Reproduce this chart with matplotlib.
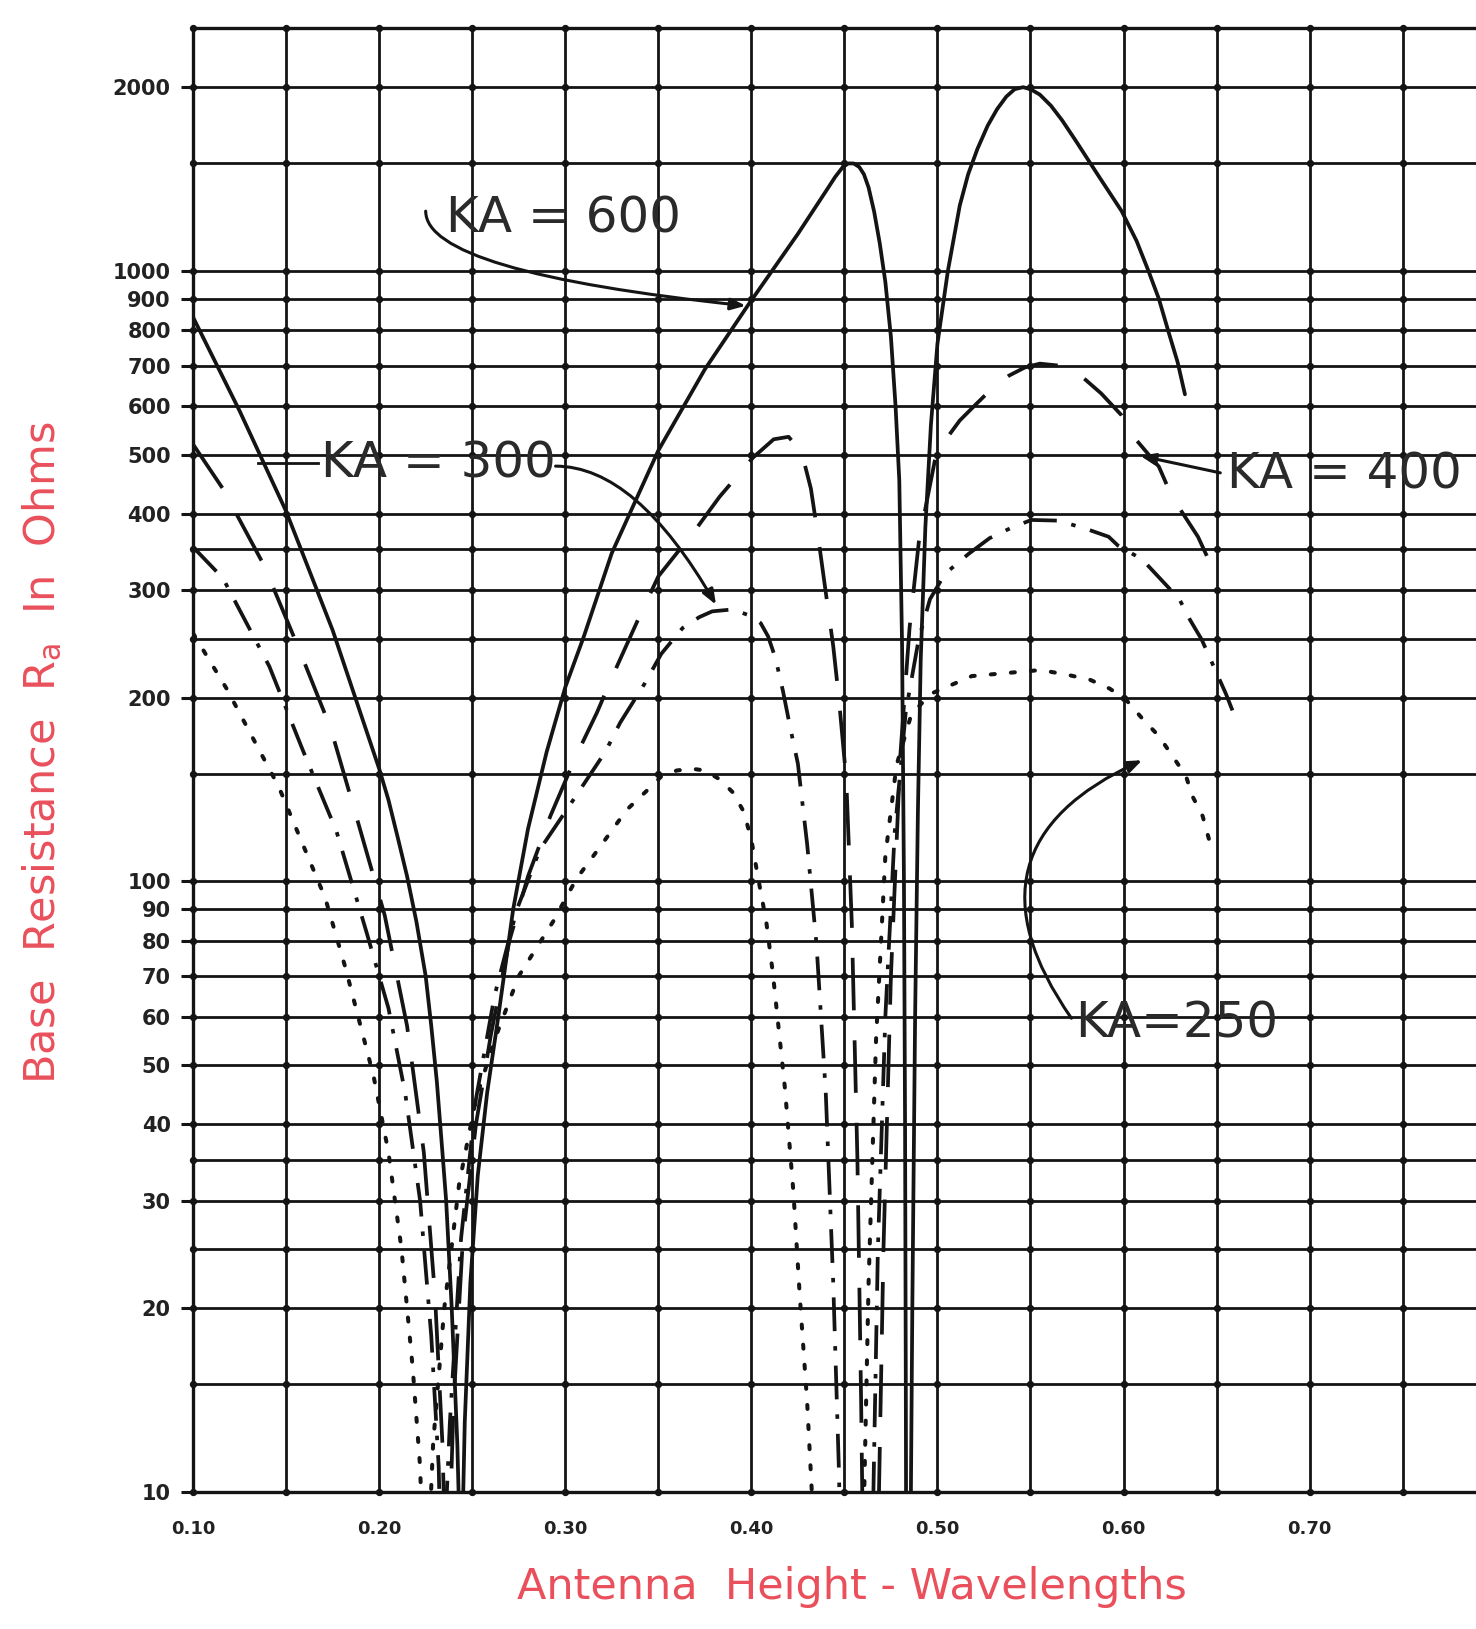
import numpy as np
import matplotlib.pyplot as plt
from matplotlib.ticker import FixedLocator, FixedFormatter, NullLocator

plt.rcParams['font.family'] = ['DejaVu Sans']
plt.rcParams['mathtext.default'] = 'regular'

# base resistance (ohms) vs antenna height (wavelengths)
ka600_x = [0.100, 0.125, 0.150, 0.175, 0.200, 0.205, 0.210, 0.215, 0.220, 0.225, 0.228, 0.231,
           0.234, 0.236, 0.239, 0.242, 0.2435,
           0.2445, 0.246, 0.249, 0.253, 0.258, 0.264, 0.272, 0.280, 0.290, 0.300, 0.310, 0.325,
           0.350, 0.375, 0.398, 0.425, 0.440, 0.445, 0.449, 0.452, 0.455, 0.458, 0.4605, 0.463,
           0.466, 0.469, 0.472, 0.475, 0.4775, 0.4795, 0.481, 0.482, 0.4826, 0.483, 0.4832,
           0.4855, 0.4865, 0.488, 0.4895, 0.491, 0.4935, 0.4965, 0.500, 0.5056, 0.512, 0.5165,
           0.5215, 0.527, 0.532, 0.537, 0.5415, 0.546, 0.550, 0.555, 0.561, 0.567, 0.574, 0.586,
           0.599, 0.607, 0.6134, 0.619, 0.624, 0.629, 0.633]
ka600_r = [840, 590, 404, 258, 153, 136, 118, 102, 86, 70, 58, 47,
           36, 30, 20, 12, 8,
           8, 13, 22, 33, 45, 60, 90, 122, 163, 208, 252, 345,
           508, 690, 877, 1150, 1350, 1425, 1478, 1500, 1500, 1480, 1440, 1370,
           1250, 1110, 960, 780, 600, 454, 243, 100, 40, 15, 8,
           8, 20, 60, 130, 230, 380, 560, 760, 1000, 1280, 1440,
           1585, 1730, 1840, 1930, 1985, 2000, 1985, 1945, 1865, 1765, 1640, 1440,
           1253, 1120, 1000, 900, 798, 710, 628]

ka400_x = [0.100, 0.116, 0.138, 0.157, 0.174, 0.188, 0.203, 0.215, 0.224, 0.230, 0.234, 0.2355,
           0.2375, 0.240, 0.245, 0.252, 0.260, 0.270, 0.280, 0.292, 0.306, 0.317, 0.326, 0.339,
           0.350, 0.370, 0.383, 0.401, 0.412, 0.420, 0.427, 0.432, 0.436, 0.4405, 0.444, 0.447,
           0.451, 0.454, 0.457, 0.459, 0.460,
           0.468, 0.471, 0.475, 0.480, 0.485, 0.490, 0.4995, 0.512, 0.5205, 0.530, 0.5385, 0.547,
           0.555, 0.565, 0.577, 0.588, 0.599, 0.607, 0.619, 0.626, 0.640, 0.646]
ka400_r = [520, 440, 330, 240, 178, 127, 88, 58, 36, 21, 12, 8,
           8, 14, 26, 40, 56, 80, 102, 128, 161, 189, 219, 268,
           316, 377, 427, 495, 530, 535, 505, 440, 365, 290, 243, 200,
           147, 85, 35, 14, 8,
           8, 25, 70, 160, 260, 360, 505, 569, 604, 645, 674, 695,
           705, 700, 674, 630, 580, 528, 478, 427, 367, 335]

ka300_x = [0.100, 0.116, 0.141, 0.159, 0.177, 0.193, 0.205, 0.214, 0.222, 0.228, 0.232, 0.233,
           0.235, 0.238, 0.244, 0.252, 0.262, 0.274, 0.2865, 0.300, 0.3215, 0.3295, 0.3427,
           0.3516, 0.363, 0.372, 0.379, 0.390, 0.400, 0.405, 0.409, 0.413, 0.417, 0.421, 0.425,
           0.430, 0.435, 0.440, 0.444, 0.447, 0.448,
           0.465, 0.468, 0.472, 0.477, 0.483, 0.490, 0.496, 0.504, 0.5167, 0.528, 0.540, 0.5505,
           0.565, 0.580, 0.592, 0.597, 0.610, 0.630, 0.6355, 0.642, 0.655, 0.659]
ka300_r = [353, 314, 225, 164, 121, 83, 62, 45, 30, 18, 11, 8,
           8, 13, 26, 44, 65, 90, 113, 130, 163, 182, 211,
           236, 260, 271, 277, 279, 272, 265, 252, 232, 205, 178, 156,
           115, 79, 45, 22, 11, 8,
           8, 25, 60, 120, 190, 250, 290, 319, 344, 365, 380, 391,
           390, 378, 367, 355, 337, 290, 269, 249, 203, 189]

ka250_x = [0.100, 0.118, 0.146, 0.171, 0.182, 0.190, 0.197, 0.205, 0.212, 0.218, 0.222, 0.2235,
           0.2265, 0.229, 0.235, 0.243, 0.252, 0.262, 0.275, 0.2935, 0.306, 0.315, 0.324, 0.333,
           0.344, 0.352, 0.360, 0.368, 0.375, 0.383, 0.390, 0.396, 0.400, 0.404, 0.408, 0.4115,
           0.418, 0.4226, 0.426, 0.430, 0.4325, 0.4335,
           0.460, 0.463, 0.467, 0.472, 0.478, 0.486, 0.4965, 0.5185, 0.5555, 0.570, 0.582,
           0.5925, 0.601, 0.610, 0.619, 0.6335, 0.637, 0.6425, 0.646]
ka250_r = [255, 207, 143, 94, 72, 58, 48, 36, 25, 16, 11, 8,
           8, 12, 20, 32, 44, 55, 70, 86, 101, 110, 120, 131,
           141, 149, 152, 153, 152, 147, 140, 130, 117, 100, 86, 71,
           46, 31, 21, 14, 10, 8,
           8, 22, 55, 110, 155, 188, 203, 217, 222, 218, 214,
           207, 199, 185, 173, 149, 138, 128, 117]

grid_x = [0.10, 0.15, 0.20, 0.25, 0.30, 0.35, 0.40, 0.45, 0.50, 0.55, 0.60, 0.65, 0.70, 0.75]
grid_r = [10, 15, 20, 25, 30, 35, 40, 50, 60, 70, 80, 90, 100, 150, 200, 250, 300, 350,
          400, 500, 600, 700, 800, 900, 1000, 1500, 2000, 2500]
ytick_vals = [10, 20, 30, 40, 50, 60, 70, 80, 90, 100, 200, 300, 400, 500, 600, 700, 800,
              900, 1000, 2000]
xtick_vals = [0.10, 0.20, 0.30, 0.40, 0.50, 0.60, 0.70]
xtick_labels = ['0.10', '0.20', '0.30', '0.40', '0.50', '0.60', '0.70']

ink = '#141414'
red = '#e9505c'

fig = plt.figure(figsize=(14.76, 16.29), dpi=100)
ax = fig.add_axes([0.1308, 0.0841, 0.8692, 0.8987])
ax.set_yscale('log')
ax.set_xlim(0.10, 0.7894)
ax.set_ylim(10, 2500)

# graph-paper grid with dots at the crossings
for gx in grid_x[1:]:
    ax.axvline(gx, color=ink, lw=2.0, zorder=1)
for gr in grid_r[1:-1]:
    ax.axhline(gr, color=ink, lw=2.0, zorder=1)
gx_all, gr_all = np.meshgrid(grid_x, grid_r)
ax.scatter(gx_all.ravel(), gr_all.ravel(), s=18, color=ink, zorder=2, clip_on=False)

ax.plot(ka600_x, ka600_r, color=ink, lw=2.7, solid_capstyle='round', zorder=3)
ax.plot(ka400_x, ka400_r, color=ink, lw=2.7, ls=(0, (14, 8)), dash_capstyle='butt', zorder=3)
ax.plot(ka300_x, ka300_r, color=ink, lw=2.7, ls=(0, (9, 4, 1.2, 4)), dash_capstyle='butt', zorder=3)
ax.plot(ka250_x, ka250_r, color=ink, lw=2.9, ls=(0, (1.0, 4.0)), dash_capstyle='round', zorder=3)

# curve labels
lab_kw = dict(fontsize=36, color='#2a2a2a', va='center', ha='left', zorder=5)
arr_kw = dict(arrowstyle='-|>,head_length=0.9,head_width=0.35', color=ink, lw=2.2,
              shrinkA=0, shrinkB=0)
ax.text(0.236, 1220, 'KA = 600', **lab_kw)
ax.annotate('', xy=(0.397, 877), xytext=(0.225, 1253),
            arrowprops=dict(connectionstyle='angle3,angleA=90,angleB=-6', **arr_kw))
ax.text(0.169, 484, 'KA = 300', **lab_kw)
ax.plot([0.135, 0.167], [484, 484], color=ink, lw=2.0, zorder=4)
ax.annotate('', xy=(0.381, 284), xytext=(0.2948, 479),
            arrowprops=dict(connectionstyle='angle3,angleA=0,angleB=-60', **arr_kw))
ax.text(0.6558, 464, 'KA = 400', clip_on=False, **lab_kw)
ax.annotate('', xy=(0.609, 498), xytext=(0.652, 467),
            arrowprops=dict(connectionstyle='arc3,rad=0', **arr_kw))
ax.text(0.5738, 58.6, 'KA=250', **lab_kw)
ax.annotate('', xy=(0.610, 158), xytext=(0.572, 59.7),
            arrowprops=dict(connectionstyle='arc3,rad=-0.6', **arr_kw))

# axes frame and ticks
for side in ['left', 'bottom', 'top']:
    ax.spines[side].set_linewidth(2.4)
    ax.spines[side].set_color(ink)
ax.spines['right'].set_visible(False)

ax.yaxis.set_major_locator(FixedLocator(ytick_vals))
ax.yaxis.set_major_formatter(FixedFormatter([str(v) for v in ytick_vals]))
ax.yaxis.set_minor_locator(NullLocator())
ax.xaxis.set_major_locator(FixedLocator(xtick_vals))
ax.xaxis.set_major_formatter(FixedFormatter(xtick_labels))
ax.xaxis.set_minor_locator(NullLocator())
ax.tick_params(axis='y', length=9, width=2.2, color=ink, pad=7, labelsize=15)
ax.tick_params(axis='x', length=0, pad=20, labelsize=13)
for lbl in ax.get_yticklabels() + ax.get_xticklabels():
    lbl.set_fontweight('bold')
    lbl.set_color('#222222')

fig.text(0.577, 0.026, 'Antenna  Height - Wavelengths', color=red, fontsize=31,
         ha='center', va='center')
fig.text(0.0285, 0.538, 'Base  Resistance  R$_a$  In  Ohms', color=red, fontsize=31,
         rotation=90, ha='center', va='center')

fig.savefig('out.png', dpi=100)
